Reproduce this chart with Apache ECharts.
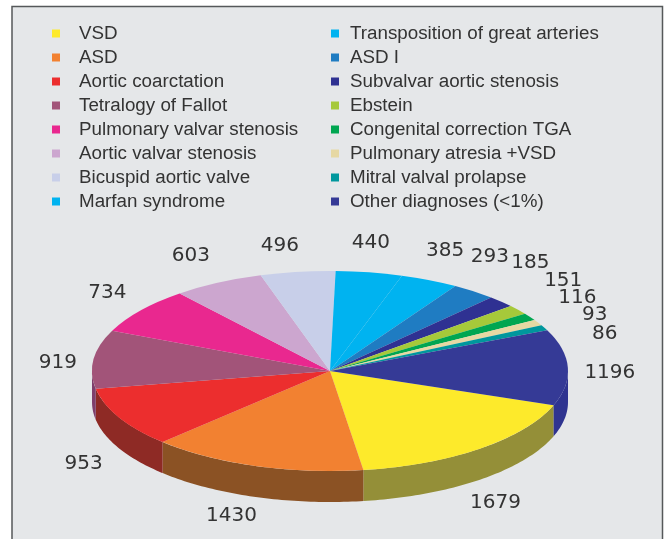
<!DOCTYPE html>
<html lang="en">

<head>
    <meta charset="UTF-8">
    <title>Diagnoses pie</title>
    <style>
        html,
        body {
            height: 100%;
            margin: 0;
            padding: 0;
            background: #fff;
        }

        #main {
            width: 665px;
            height: 539px;
        }
    </style>
    <script src="https://cdn.jsdelivr.net/npm/echarts@6/dist/echarts.min.js"></script>
</head>

<body>
    <div id="main"></div>
    <script>
        // values
        var diagnoses = [
            'VSD', 'ASD', 'Aortic coarctation', 'Tetralogy of Fallot',
            'Pulmonary valvar stenosis', 'Aortic valvar stenosis', 'Bicuspid aortic valve', 'Marfan syndrome',
            'Transposition of great arteries', 'ASD I', 'Subvalvar aortic stenosis', 'Ebstein',
            'Congenital correction TGA', 'Pulmonary atresia +VSD', 'Mitral valval prolapse', 'Other diagnoses (<1%)'
        ];
        var patients = [1679, 1430, 953, 919, 734, 603, 496, 440, 385, 293, 185, 151, 116, 93, 86, 1196];

        var topColors = [
            '#fdea2b', '#f28131', '#ec2e2e', '#a25479', '#e9288f', '#cca6cf', '#c8cfe9', '#00b3f0',
            '#00b3f0', '#1f7cc2', '#2f3192', '#a6c93a', '#00a651', '#e6d8a3', '#00979d', '#353a96'
        ];
        var wallColors = [
            '#948f38', '#8b5224', '#8e2a25', '#7e3f6c', '#e9288f', '#cca6cf', '#c8cfe9', '#00b3f0',
            '#00b3f0', '#1f7cc2', '#2f3192', '#a6c93a', '#00a651', '#e6d8a3', '#00979d', '#2f3490'
        ];
        // hand placed number labels, offset from their slice's direction
        var labelNudge = [
            [-2, 39], [-15, 31], [-11, 37], [-8, 6], [-11, -6], [-14, -9], [-14, -6], [-3, -10],
            [4, -11], [-1, -19], [9, -25], [23, -17], [24, -8], [32, 2], [35, 15], [14, 6]
        ];

        var cx = 330, cy = 371, rx = 238, ry = 100, depth = 31;
        var startDeg = 110; // clockwise from 12 o'clock
        var total = patients.reduce(function (a, b) { return a + b; }, 0);

        // start angle of each slice
        var sliceStart = [];
        patients.reduce(function (sum, v, i) {
            sliceStart[i] = startDeg + sum / total * 360;
            return sum + v;
        }, 0);

        function rimPoint(deg, dy) {
            var a = deg * Math.PI / 180;
            return [cx + rx * Math.sin(a), cy - ry * Math.cos(a) + dy];
        }

        function makeRenderItem(idx) {
            return function (params, api) {
                var span = api.value(0) / total * 360;
                var from = sliceStart[idx], to = from + span, mid = from + span / 2;
                var children = [];

                // side wall, only the part on the front half shows
                [[90, 270], [450, 630]].forEach(function (front) {
                    var a = Math.max(from, front[0]), b = Math.min(to, front[1]);
                    if (b <= a) return;
                    var pts = [], d;
                    for (d = a; d < b; d += 1) pts.push(rimPoint(d, 0));
                    pts.push(rimPoint(b, 0));
                    pts.push(rimPoint(b, depth));
                    for (d = b; d > a; d -= 1) pts.push(rimPoint(d, depth));
                    pts.push(rimPoint(a, depth));
                    children.push({
                        type: 'polygon',
                        shape: { points: pts },
                        style: { fill: wallColors[idx] }
                    });
                });

                // top face, a sector squashed into the ellipse
                children.push({
                    type: 'sector',
                    x: cx,
                    y: cy,
                    scaleY: ry / rx,
                    shape: {
                        cx: 0,
                        cy: 0,
                        r0: 0,
                        r: rx,
                        startAngle: (from - 90) * Math.PI / 180,
                        endAngle: (to - 90) * Math.PI / 180,
                        clockwise: true
                    },
                    style: { fill: topColors[idx] }
                });

                var a = mid * Math.PI / 180;
                children.push({
                    type: 'text',
                    style: {
                        text: String(api.value(0)),
                        x: cx + (rx + 28) * Math.sin(a) + labelNudge[idx][0],
                        y: cy - (ry + 20) * Math.cos(a) + labelNudge[idx][1],
                        fill: '#333333',
                        fontFamily: 'DejaVu Sans',
                        fontSize: 20,
                        textAlign: 'center',
                        textVerticalAlign: 'middle'
                    }
                });
                return { type: 'group', children: children };
            };
        }

        function legendAt(left, names, textGap) {
            return {
                orient: 'vertical',
                left: left,
                top: 19,
                data: names,
                icon: 'rect',
                itemWidth: 8,
                itemHeight: 8,
                itemGap: 5,
                selectedMode: false,
                textStyle: {
                    color: '#333333',
                    fontFamily: 'Liberation Sans',
                    fontSize: 18.8,
                    lineHeight: 16,
                    padding: [0, 0, 0, textGap]
                }
            };
        }

        var myChart = echarts.init(document.getElementById('main'));
        myChart.setOption({
            animation: false,
            backgroundColor: '#ffffff',
            graphic: [{
                type: 'rect',
                z: -10,
                silent: true,
                shape: { x: 12, y: 6.5, width: 650.5, height: 560 },
                style: { fill: '#e5e7e9', stroke: '#55585a', lineWidth: 1.5 }
            }],
            legend: [legendAt(47, diagnoses.slice(0, 8), 14), legendAt(326, diagnoses.slice(8), 6)],
            series: diagnoses.map(function (name, i) {
                return {
                    type: 'custom',
                    name: name,
                    coordinateSystem: 'none',
                    itemStyle: { color: topColors[i] },
                    renderItem: makeRenderItem(i),
                    data: [patients[i]]
                };
            })
        });
    </script>
</body>

</html>
